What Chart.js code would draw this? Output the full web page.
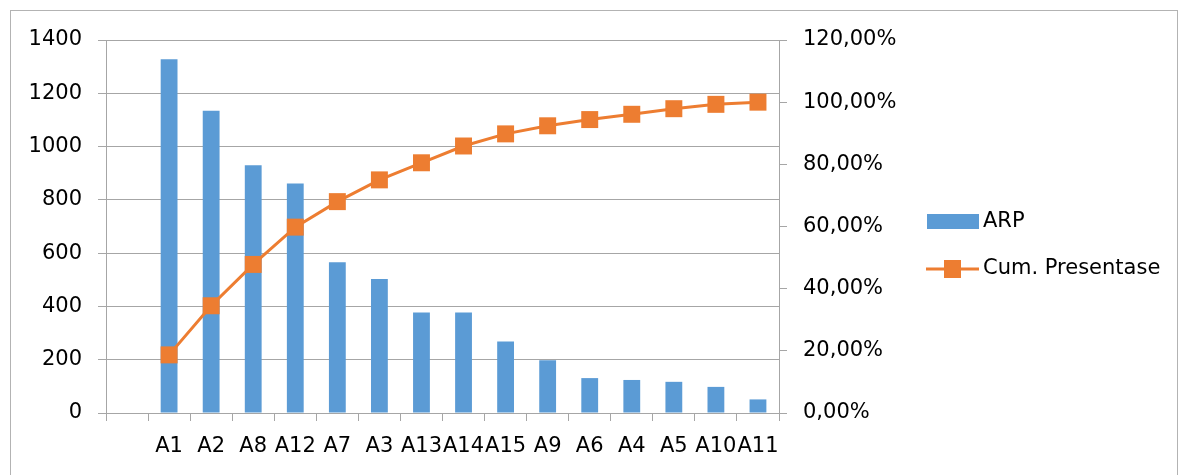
<!DOCTYPE html>
<html>
<head>
<meta charset="utf-8">
<script src="https://cdn.jsdelivr.net/npm/chart.js@4.4.1/dist/chart.umd.min.js"></script>
<style>
  html, body { margin: 0; padding: 0; background: #fff; }
  #wrap { position: relative; width: 1192px; height: 475px; overflow: hidden; }
  #frame { position: absolute; left: 10px; top: 10px; width: 1168px; height: 480px; border: 1px solid #b3b3b3; box-sizing: border-box; pointer-events: none; }
</style>
</head>
<body>
<div id="wrap">
  <canvas id="myChart" width="1192" height="475"></canvas>
  <div id="frame"></div>
</div>
<script>
//*************DATA******************* */
// first category is blank in the original chart
let categories = ["", "A1", "A2", "A8", "A12", "A7", "A3", "A13", "A14", "A15", "A9", "A6", "A4", "A5", "A10", "A11"];
let arpValues = [null, 1328, 1134, 930, 861, 566, 503, 377, 377, 268, 198, 131, 124, 117, 98, 51];
let cumPercent = [null, 18.7, 34.5, 47.8, 59.8, 68.0, 75.0, 80.5, 85.9, 89.8, 92.4, 94.4, 96.1, 97.9, 99.3, 100];
let leftTicks = { min: 0, max: 1400, step: 200 };
let rightTicks = { min: 0, max: 120, step: 20 };
//********************************************** */

const blue = "#5b9bd5",
  orange = "#ed7d31",
  gridColor = "#a6a6a6",
  fontFamily = "'DejaVu Sans', sans-serif";

Chart.defaults.font.family = fontFamily;
Chart.defaults.font.size = 21;
Chart.defaults.color = "#000";

const formatPercent = (v) => v.toFixed(2).replace(".", ",") + "%";

// legend drawn by hand: box for bars, line + square for the line series
const sideLegend = {
  id: "sideLegend",
  afterDraw(chart) {
    const ctx = chart.ctx;
    const sets = chart.data.datasets;
    ctx.save();
    ctx.font = "21px " + fontFamily;
    ctx.textBaseline = "middle";
    // ARP
    ctx.fillStyle = sets[1].backgroundColor;
    ctx.fillRect(927, 214, 52, 15);
    ctx.fillStyle = "#000";
    ctx.fillText(sets[1].label, 983, 222);
    // Cum. Presentase
    ctx.strokeStyle = sets[0].borderColor;
    ctx.lineWidth = 3;
    ctx.beginPath();
    ctx.moveTo(926, 269);
    ctx.lineTo(979, 269);
    ctx.stroke();
    ctx.fillStyle = sets[0].backgroundColor;
    ctx.fillRect(944, 260, 17, 18);
    ctx.fillStyle = "#000";
    ctx.fillText(sets[0].label, 983, 269);
    ctx.restore();
  },
};

const data = {
  labels: categories,
  datasets: [
    {
      type: "line",
      label: "Cum. Presentase",
      data: cumPercent,
      yAxisID: "y1",
      borderColor: orange,
      backgroundColor: orange,
      borderWidth: 3,
      tension: 0,
      pointStyle: "rect",
      pointRadius: 12,
      pointHoverRadius: 12,
      pointBorderWidth: 0,
      pointBackgroundColor: orange,
      order: 1,
    },
    {
      type: "bar",
      label: "ARP",
      data: arpValues,
      yAxisID: "y",
      backgroundColor: blue,
      borderWidth: 0,
      barPercentage: 0.4,
      categoryPercentage: 1,
      order: 2,
    },
  ],
};

const config = {
  type: "bar",
  data: data,
  options: {
    responsive: false,
    animation: false,
    layout: {
      padding: { left: 10, top: 40, right: 0, bottom: 0 },
    },
    scales: {
      x: {
        offset: true,
        grid: {
          offset: true,
          drawOnChartArea: false,
          drawTicks: true,
          tickLength: 8,
          color: gridColor,
        },
        border: { display: true, color: gridColor },
        ticks: { autoSkip: false, maxRotation: 0, minRotation: 0, padding: 13 },
        afterFit: (scale) => {
          scale.height = 62;
        },
      },
      y: {
        position: "left",
        min: leftTicks.min,
        max: leftTicks.max,
        ticks: { stepSize: leftTicks.step, padding: 16, callback: (v) => String(v) },
        grid: { color: gridColor, tickLength: 8 },
        border: { display: true, color: gridColor },
        afterFit: (scale) => {
          scale.width = 96;
        },
      },
      y1: {
        position: "right",
        min: rightTicks.min,
        max: rightTicks.max,
        ticks: {
          stepSize: rightTicks.step,
          padding: 16,
          callback: (v) => formatPercent(v),
        },
        grid: { drawOnChartArea: false, color: gridColor, tickLength: 8 },
        border: { display: true, color: gridColor },
        afterFit: (scale) => {
          scale.width = 413;
        },
      },
    },
    plugins: {
      legend: { display: false },
      tooltip: { enabled: false },
    },
  },
  plugins: [sideLegend],
};

const myChart = new Chart(document.getElementById("myChart"), config);
</script>
</body>
</html>
